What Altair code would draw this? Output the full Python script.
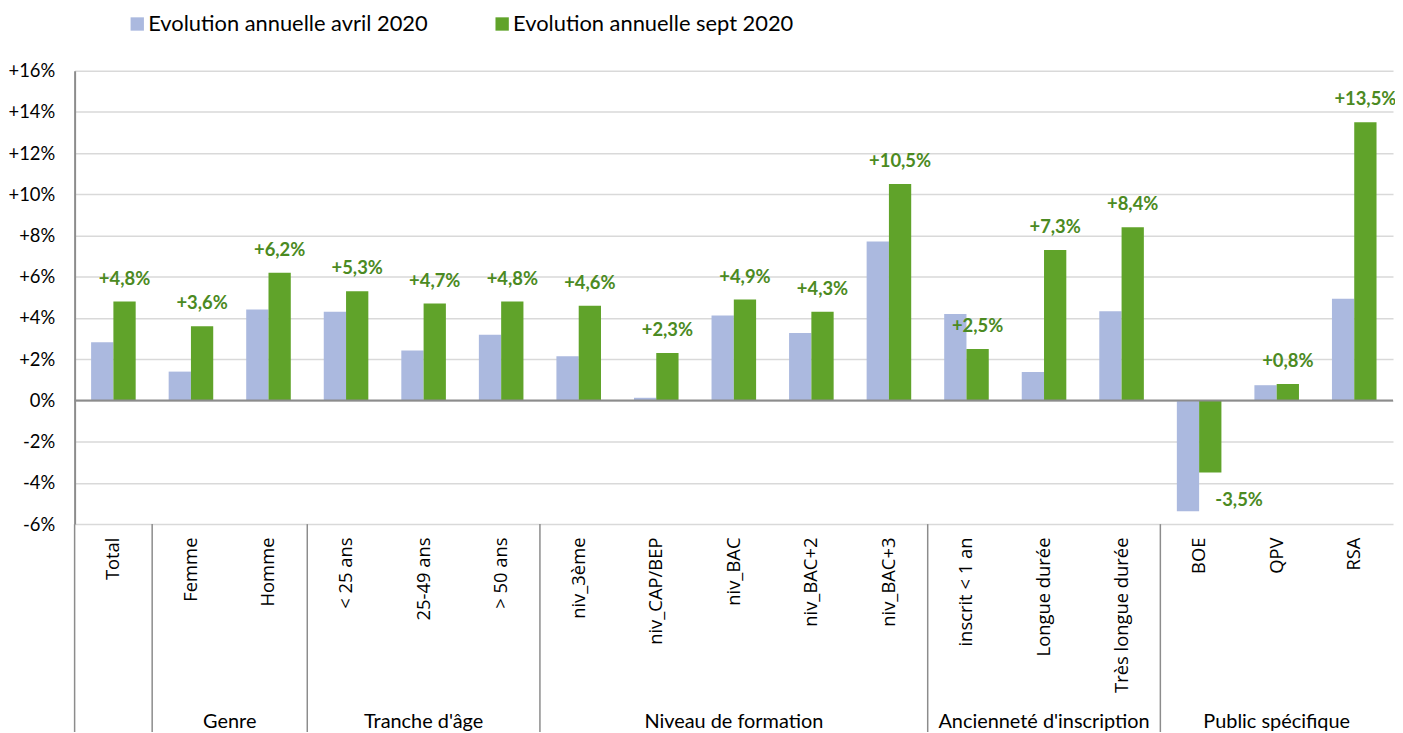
import altair as alt
import pandas as pd

categories = ["Total", "Femme", "Homme", "< 25 ans", "25-49 ans", "> 50 ans",
              "niv_3ème", "niv_CAP/BEP", "niv_BAC", "niv_BAC+2", "niv_BAC+3",
              "inscrit < 1 an", "Longue durée", "Très longue durée",
              "BOE", "QPV", "RSA"]
avril = [2.83, 1.40, 4.41, 4.31, 2.42, 3.19, 2.14, 0.13, 4.12, 3.27, 7.71,
         4.19, 1.38, 4.33, -5.38, 0.74, 4.94]
sept = [4.8, 3.6, 6.2, 5.3, 4.7, 4.8, 4.6, 2.3, 4.9, 4.3, 10.5,
        2.5, 7.3, 8.4, -3.5, 0.8, 13.5]
series_names = ["Evolution annuelle avril 2020", "Evolution annuelle sept 2020"]
groups = ["Genre", "Tranche d'âge", "Niveau de formation",
          "Ancienneté d'inscription", "Public spécifique"]
group_first = ["Femme", "< 25 ans", "niv_3ème", "inscrit < 1 an", "BOE"]
group_sizes = [2, 3, 5, 3, 3]
y_ticks = [-6, -4, -2, 0, 2, 4, 6, 8, 10, 12, 14, 16]

BLUE = "#abb9df"
GREEN = "#60a32a"
LABEL_GREEN = "#4b8a22"
AXIS_GRAY = "#8c8c8c"

def fmt(v):
    return f"{v:+.1f}%".replace(".", ",")

rows = []
for c, a, s in zip(categories, avril, sept):
    rows.append({"cat": c, "series": series_names[0], "value": a, "label": fmt(a)})
    rows.append({"cat": c, "series": series_names[1], "value": s, "label": fmt(s)})
df = pd.DataFrame(rows)

even_rows, odd_rows = [], []
for g, first, n in zip(groups, group_first, group_sizes):
    i = categories.index(first)
    anchor = categories[i + n // 2]
    (even_rows if n % 2 == 0 else odd_rows).append({"cat": anchor, "group": g})
df_even = pd.DataFrame(even_rows)
df_odd = pd.DataFrame(odd_rows)
df_sep = pd.DataFrame({"cat": ["Total"] + group_first})

x_scale = alt.Scale(domain=categories, paddingInner=0, paddingOuter=0)
xoff_scale = alt.Scale(domain=series_names, paddingInner=0, paddingOuter=0.74)
y_scale = alt.Scale(domain=[-6, 16], nice=False, zero=False)

base = alt.Chart(df)

bars = base.mark_bar().encode(
    x=alt.X("cat:N", scale=x_scale, sort=categories, title=None,
            axis=alt.Axis(labelAngle=-90, labelAlign="right", labelBaseline="middle")),
    xOffset=alt.XOffset("series:N", scale=xoff_scale, sort=series_names),
    y=alt.Y("value:Q", scale=y_scale, title=None,
            axis=alt.Axis(values=y_ticks,
                          labelExpr="(datum.value > 0 ? '+' : '') + datum.value + '%'")),
    color=alt.Color("series:N", sort=series_names,
                    scale=alt.Scale(domain=series_names, range=[BLUE, GREEN]),
                    legend=alt.Legend(orient="none", legendX=52, legendY=-58,
                                      direction="horizontal", title=None,
                                      symbolType="square", symbolSize=180,
                                      symbolStrokeWidth=0, labelFont="Lato",
                                      labelFontSize=22, labelColor="#000000",
                                      columnPadding=63, padding=0, labelOffset=0,
                                      labelLimit=0)),
)

zero = alt.Chart(pd.DataFrame({"value": [0]})).mark_rule(
    color=AXIS_GRAY, strokeWidth=2).encode(y=alt.Y("value:Q", scale=y_scale, title=None))

pos_labels = base.transform_filter(
    (alt.datum.series == series_names[1]) & (alt.datum.value >= 0)
).mark_text(font="Lato", fontSize=18.5, fontWeight="bold", color=LABEL_GREEN,
            baseline="bottom", dy=-13).encode(
    x=alt.X("cat:N", scale=x_scale, sort=categories, title=None),
    xOffset=alt.XOffset("series:N", scale=xoff_scale, sort=series_names),
    y=alt.Y("value:Q", scale=y_scale, title=None),
    text="label:N",
)

neg_labels = base.transform_filter(
    (alt.datum.series == series_names[1]) & (alt.datum.value < 0)
).mark_text(font="Lato", fontSize=18.5, fontWeight="bold", color=LABEL_GREEN,
            baseline="top", dy=19, dx=29).encode(
    x=alt.X("cat:N", scale=x_scale, sort=categories, title=None),
    xOffset=alt.XOffset("series:N", scale=xoff_scale, sort=series_names),
    y=alt.Y("value:Q", scale=y_scale, title=None),
    text="label:N",
)

seps = alt.Chart(df_sep).mark_rule(color=AXIS_GRAY, strokeWidth=1.5).encode(
    x=alt.X("cat:N", scale=x_scale, sort=categories, bandPosition=0, title=None),
    y=alt.value(456),
    y2=alt.value(680),
)

grp_even = alt.Chart(df_even).mark_text(
    font="Lato", fontSize=20, color="#000000", baseline="alphabetic").encode(
    x=alt.X("cat:N", scale=x_scale, sort=categories, bandPosition=0, title=None),
    y=alt.value(661),
    text="group:N",
)
grp_odd = alt.Chart(df_odd).mark_text(
    font="Lato", fontSize=20, color="#000000", baseline="alphabetic").encode(
    x=alt.X("cat:N", scale=x_scale, sort=categories, bandPosition=0.5, title=None),
    y=alt.value(661),
    text="group:N",
)

chart = alt.layer(bars, zero, pos_labels, neg_labels, seps, grp_even, grp_odd).properties(
    width=1326, height=456,
    autosize=alt.AutoSizeParams(type="none"),
    padding={"left": 67, "top": 61, "right": 2, "bottom": 207},
).configure_view(strokeWidth=0).configure_axisX(
    labelAngle=-90, labelAlign="right", labelBaseline="middle",
    domain=False, ticks=False, grid=False, labelPadding=13,
    labelFont="Open Sans", labelFontSize=18.5, labelColor="#000000", labelLimit=300,
).configure_axisY(
    grid=True, gridColor="#d9d9d9", gridWidth=1.5,
    domain=True, domainColor=AXIS_GRAY, domainWidth=2,
    ticks=False, labelPadding=20, labelFont="Lato",
    labelFontSize=18.5, labelColor="#000000",
)

chart.save("out.html", embed_options={"renderer": "svg", "actions": False})
